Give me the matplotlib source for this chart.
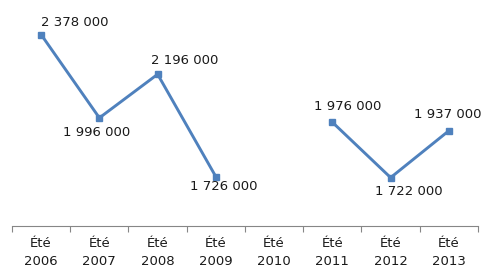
import numpy as np
import matplotlib
matplotlib.use("Agg")
import matplotlib.pyplot as plt

# données
categories = ["Été\n2006", "Été\n2007", "Été\n2008", "Été\n2009",
              "Été\n2010", "Été\n2011", "Été\n2012", "Été\n2013"]
valeurs = [2378000, 1996000, 2196000, 1726000, np.nan, 1976000, 1722000, 1937000]
# décalage des étiquettes (pixels)
decalages = [(34, 12), (-3, -15), (27, 14), (8, -10), None, (15, 16), (18, -14), (-1, 16)]


def fmt(v):
    return f"{int(v):,}".replace(",", " ")


fig = plt.figure(figsize=(4.89, 2.68), dpi=100)
ax = fig.add_axes([12 / 489, 42 / 268, 466 / 489, 218 / 268])

x = np.arange(len(categories))
ax.plot(x, valeurs, color="#4F81BD", linewidth=2.1, marker="s", markersize=4.5)

for i, v in enumerate(valeurs):
    if np.isnan(v):
        continue
    ax.annotate(fmt(v), (x[i], v), xytext=decalages[i], textcoords="offset pixels",
                ha="center", va="center", fontsize=9.5, color="#1a1a1a")

ax.set_xlim(-0.5, len(categories) - 0.5)
ax.set_ylim(1500000, 2500000)
ax.set_yticks([])
ax.set_xticks(x)
ax.set_xticklabels(categories, fontsize=9.5, color="#1a1a1a", linespacing=1.5)
ax.set_xticks(np.arange(len(categories) + 1) - 0.5, minor=True)
ax.tick_params(axis="x", which="major", length=0, pad=8)
ax.tick_params(axis="x", which="minor", length=4, color="#868686", width=0.8)

for s in ["top", "right", "left"]:
    ax.spines[s].set_visible(False)
ax.spines["bottom"].set_color("#868686")
ax.spines["bottom"].set_linewidth(0.8)

fig.savefig("out.png", dpi=100)
